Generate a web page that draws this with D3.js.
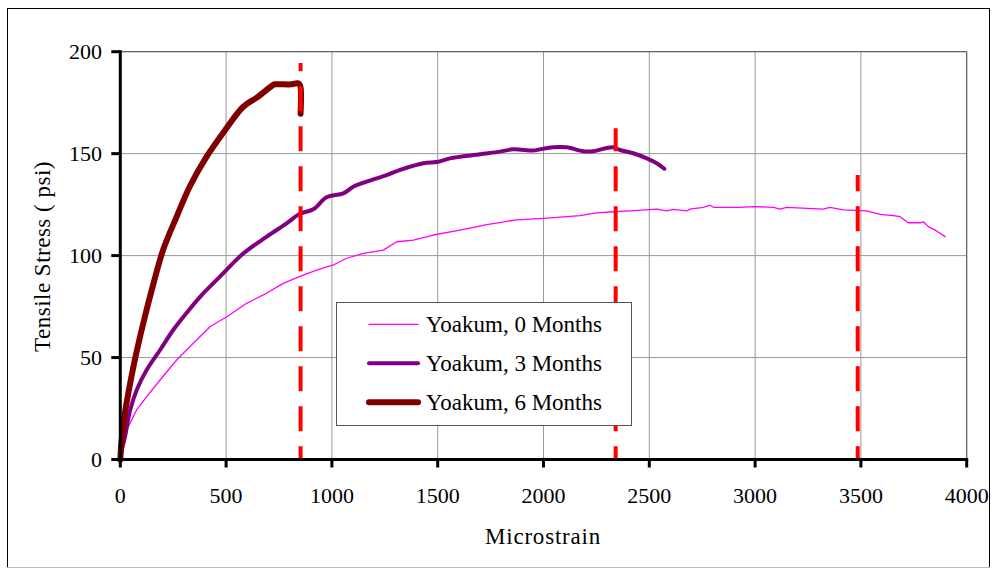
<!DOCTYPE html>
<html>
<head>
<meta charset="utf-8">
<script src="https://cdn.jsdelivr.net/npm/d3@7"></script>
<style>
  html, body { margin: 0; padding: 0; background: #fff; }
  svg { display: block; }
</style>
</head>
<body>
<svg id="chart" width="995" height="570" font-family="'Liberation Serif', 'Times New Roman', Times, serif"></svg>
<script>
// ---- data ----
const xTicks = [0, 500, 1000, 1500, 2000, 2500, 3000, 3500, 4000];
const yTicks = [0, 50, 100, 150, 200];

const seriesNames = ["Yoakum, 0 Months", "Yoakum, 3 Months", "Yoakum, 6 Months"];

const strain0 = [0, 8, 22, 46, 77, 125, 188, 266, 345, 424, 503, 597, 676, 770, 849, 928, 1007, 1070, 1149, 1243, 1306, 1385, 1479, 1605, 1732, 1873, 1999, 2110, 2172, 2252, 2330, 2409, 2535, 2582, 2614, 2677, 2692, 2755, 2787, 2803, 2929, 2992, 3087, 3118, 3149, 3322, 3354, 3417, 3528, 3591, 3653, 3685, 3724, 3779, 3795, 3819, 3858, 3898];
const stress0 = [0, 6, 12.8, 17.8, 24.3, 30.8, 39, 48.8, 57, 65.1, 70, 76.6, 80.7, 86.4, 89.8, 92.9, 95.4, 98.7, 101.1, 102.7, 106.8, 107.6, 110.1, 112.5, 115.2, 117.5, 118.3, 119.1, 119.6, 121, 121.5, 121.9, 122.8, 121.9, 122.7, 121.9, 122.8, 123.7, 124.7, 123.7, 123.7, 124, 123.7, 122.8, 123.7, 122.8, 123.7, 122.4, 121.9, 120.2, 119.6, 119.1, 116.1, 116.1, 116.6, 114.2, 112.1, 109.3];

const strain3 = [0, 8, 22, 46, 77, 125, 188, 250, 314, 377, 471, 581, 692, 786, 849, 912, 975, 1054, 1101, 1164, 1259, 1322, 1432, 1503, 1558, 1700, 1795, 1857, 1952, 1983, 2046, 2110, 2188, 2236, 2299, 2330, 2362, 2424, 2488, 2535, 2571];
const stress3 = [0, 5, 11, 24, 34, 44, 53.7, 63.5, 72, 79.8, 89.7, 101, 109.3, 115.8, 120.5, 122.7, 128.6, 130.5, 133.8, 136.3, 139.5, 142, 145.3, 146, 147.7, 149.7, 151, 152.1, 151.5, 152.1, 153.1, 153.1, 151.2, 151.2, 152.8, 153.1, 151.8, 150.2, 147.7, 145.3, 142.6];

const strain6 = [0, 5, 14, 22, 46, 69, 109, 156, 203, 266, 329, 408, 495, 581, 645, 723, 731, 810, 834, 845, 852, 852];
const stress6 = [0, 8, 16, 23, 37, 49, 67, 86, 103, 119, 134, 148.5, 161.5, 173, 177.5, 183.7, 184, 184, 184.5, 184.3, 182.5, 169.6];

// vertical dashed failure markers
const markerStrain = [852, 2341, 3485];
const markerTop = [194.5, 162.4, 139.5];

// ---- layout ----
const svg = d3.select("#chart");
const x = d3.scaleLinear().domain([0, 4000]).range([120.3, 966.7]);
const y = d3.scaleLinear().domain([0, 200]).range([459.5, 51.7]);

// outer frame
svg.append("rect").attr("x", 7.5).attr("y", 8.5).attr("width", 982).attr("height", 559)
  .attr("fill", "#fff").attr("stroke", "#000").attr("stroke-width", 1);
svg.append("line").attr("x1", 7).attr("x2", 990).attr("y1", 567.5).attr("y2", 567.5)
  .attr("stroke", "#bbb").attr("stroke-width", 1);

// gridlines
const grid = svg.append("g");
grid.selectAll("line.v").data(xTicks.slice(1)).join("line")
  .attr("x1", d => x(d)).attr("x2", d => x(d))
  .attr("y1", y(0)).attr("y2", y(200))
  .attr("stroke", "#999").attr("stroke-width", 1);
grid.selectAll("line.h").data(yTicks.slice(1)).join("line")
  .attr("x1", x(0)).attr("x2", x(4000))
  .attr("y1", d => y(d)).attr("y2", d => y(d))
  .attr("stroke", "#999").attr("stroke-width", 1);
svg.append("path")
  .attr("d", `M${x(0)},${y(200)}H${x(4000)}V${y(0)}`)
  .attr("fill", "none").attr("stroke", "#555").attr("stroke-width", 1);

// series
const zip = (a, b) => a.map((v, i) => [v, b[i]]);
const series = [
  { name: seriesNames[0], data: zip(strain0, stress0), color: "#FF00FF", width: 1.3, curve: d3.curveLinear },
  { name: seriesNames[1], data: zip(strain3, stress3), color: "#800080", width: 4, curve: d3.curveCatmullRom.alpha(0.5) },
  { name: seriesNames[2], data: zip(strain6, stress6), color: "#800000", width: 6, curve: d3.curveCatmullRom.alpha(0.5) }
];
svg.append("g").selectAll("path").data(series).join("path")
  .attr("d", d => d3.line().curve(d.curve).x(p => x(p[0])).y(p => y(p[1]))(d.data))
  .attr("fill", "none")
  .attr("stroke", d => d.color)
  .attr("stroke-width", d => d.width)
  .attr("stroke-linejoin", "round")
  .attr("stroke-linecap", "round");

// dashed markers (drawn from bottom upward)
svg.append("g").selectAll("line").data(markerStrain).join("line")
  .attr("x1", d => x(d)).attr("x2", d => x(d))
  .attr("y1", y(0)).attr("y2", (d, i) => y(markerTop[i]))
  .attr("stroke", "#FF0000").attr("stroke-width", 4)
  .attr("stroke-dasharray", "25,15").attr("stroke-dashoffset", 11.7);

// axes
const axisG = svg.append("g");
axisG.append("line").attr("x1", x(0)).attr("x2", x(0)).attr("y1", y(0) + 1.5).attr("y2", y(200) - 1.5)
  .attr("stroke", "#000").attr("stroke-width", 3);
axisG.append("line").attr("x1", x(0) - 1.5).attr("x2", x(4000) + 1.5).attr("y1", y(0)).attr("y2", y(0))
  .attr("stroke", "#000").attr("stroke-width", 3);
axisG.selectAll("line.xt").data(xTicks).join("line").attr("class", "xt")
  .attr("x1", d => x(d)).attr("x2", d => x(d)).attr("y1", y(0)).attr("y2", y(0) + 8)
  .attr("stroke", "#000").attr("stroke-width", 3);
axisG.selectAll("line.yt").data(yTicks).join("line").attr("class", "yt")
  .attr("x1", x(0) - 9).attr("x2", x(0)).attr("y1", d => y(d)).attr("y2", d => y(d))
  .attr("stroke", "#000").attr("stroke-width", 3);

axisG.selectAll("text.xl").data(xTicks).join("text").attr("class", "xl")
  .attr("x", d => x(d)).attr("y", 503)
  .attr("text-anchor", "middle").attr("font-size", 22)
  .text(d => d);
axisG.selectAll("text.yl").data(yTicks).join("text").attr("class", "yl")
  .attr("x", 102).attr("y", d => y(d)).attr("dy", "0.35em")
  .attr("text-anchor", "end").attr("font-size", 22)
  .text(d => d);

// axis titles
svg.append("text").attr("x", 543).attr("y", 544).attr("text-anchor", "middle")
  .attr("font-size", 23).attr("letter-spacing", 0.8).text("Microstrain");
svg.append("text").attr("transform", "translate(50,256.5) rotate(-90)")
  .attr("text-anchor", "middle").attr("font-size", 23).attr("letter-spacing", 0.5)
  .text("Tensile Stress ( psi)");

// legend
const lg = svg.append("g");
lg.append("rect").attr("x", 336.5).attr("y", 302.5).attr("width", 295).attr("height", 123)
  .attr("fill", "#fff").attr("stroke", "#555").attr("stroke-width", 1);
const rows = lg.selectAll("g.row").data(series).join("g").attr("class", "row")
  .attr("transform", (d, i) => `translate(0,${324.3 + i * 39})`);
rows.append("line").attr("x1", 369).attr("x2", 418).attr("y1", 0).attr("y2", 0)
  .attr("stroke", d => d.color).attr("stroke-width", d => d.width)
  .attr("stroke-linecap", "round");
rows.append("text").attr("x", 426).attr("y", 0).attr("dy", "0.35em")
  .attr("font-size", 23).text(d => d.name);
</script>
</body>
</html>
